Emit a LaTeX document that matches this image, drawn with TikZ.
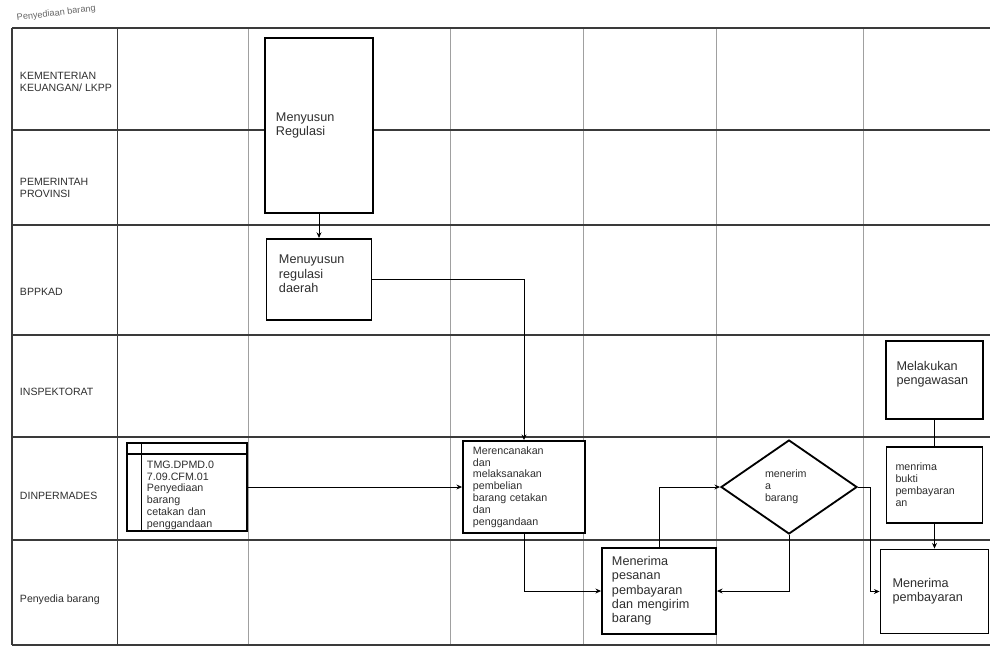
\documentclass[tikz,border=0pt]{standalone}
\usepackage{fontspec}
\setmainfont{Liberation Sans}
\usepackage{tikz}
\usetikzlibrary{positioning,arrows.meta,shapes.geometric}
\usepackage{xcolor}
\definecolor{laneline}{HTML}{3A3A3A}
\definecolor{gridline}{HTML}{A0A0A0}
\definecolor{inkgray}{HTML}{2E2E2E}
\newcommand{\lanefont}{\fontsize{7.5}{9}\selectfont}
\newcommand{\procfont}{\fontsize{9}{10.2}\selectfont}
\newcommand{\smallprocfont}{\fontsize{7.6}{8.4}\selectfont}

\begin{document}
\begin{tikzpicture}[x=0.025cm,y=-0.025cm,
      arr/.style={-{Stealth[length=4pt,width=3.5pt]},black,line width=0.6pt},
      proc/.style={draw=black,fill=white,line width=1.3pt,inner sep=0pt,align=left,text=inkgray},
      lanelabel/.style={anchor=west,align=left,font=\lanefont,text=inkgray}]
    \useasboundingbox (0,0) rectangle (990,657);
    % swimlanes
    \foreach \x in {248,450,583,716,863}
      \draw[gridline,line width=0.4pt] (\x,28) -- (\x,645);
    \foreach \y in {28,130,225,335,437,540,645}
      \draw[laneline,line width=0.9pt] (12,\y) -- (990,\y);
    \draw[laneline,line width=0.9pt] (12,28) -- (12,645);
    \draw[laneline,line width=0.7pt] (117,28) -- (117,645);
    \node[anchor=west,rotate=7,font=\fontsize{6.5}{7}\selectfont,text=black!60] (judul) at (12,19) {Penyediaan barang};
    \node[lanelabel] (kemenkeu) at (15,82) {KEMENTERIAN\\KEUANGAN/ LKPP};
    \node[lanelabel] (pemprov) at (15,188) {PEMERINTAH\\PROVINSI};
    \node[lanelabel] (bppkad) at (15,292) {BPPKAD};
    \node[lanelabel] (inspektorat) at (15,392) {INSPEKTORAT};
    \node[lanelabel] (dinpermades) at (15,496) {DINPERMADES};
    \node[lanelabel] (penyedia) at (15,600) {Penyedia barang};
    % process boxes
    \node[proc,minimum width=2.7cm,minimum height=4.375cm,text width=2.15cm,font=\procfont] (reg) at (319,125.5) {Menyusun\\Regulasi};
    \node[proc,minimum width=2.625cm,minimum height=2.025cm,text width=2.0cm,font=\procfont,below=0.6cm of reg] (daerah) {\rule{0pt}{3pt}Menuyusun\\regulasi\\daerah\rule[-8pt]{0pt}{0pt}};
    \node[proc,minimum width=3cm,minimum height=2.2cm,text width=2.0cm,font=\smallprocfont] (doc) at (187,487) {\rule{0pt}{17pt}TMG.DPMD.0\\7.09.CFM.01\\Penyediaan\\barang\\cetakan dan\\penggandaan};
    \draw[line width=0.9pt] ([yshift=-0.3cm]doc.north west) -- ([yshift=-0.3cm]doc.north east);
    \draw[line width=0.9pt] ([xshift=0.38cm]doc.north west) -- ([xshift=0.38cm]doc.south west);
    \node[proc,minimum width=3.05cm,minimum height=2.3cm,text width=2.55cm,font=\smallprocfont] (ren) at (524,487) {Merencanakan\\dan\\melaksanakan\\pembelian\\barang cetakan\\dan\\penggandaan};
    \node[proc,minimum width=2.85cm,minimum height=2.15cm,text width=2.35cm,font=\procfont] (pesanan) at (659,591) {Menerima\\pesanan\\pembayaran\\dan mengirim\\barang};
    \node[proc,diamond,minimum width=3.4cm,minimum height=2.35cm,text width=1.2cm,font=\smallprocfont] (dia) at (789,487) {menerim\\a\\barang};
    \node[proc,minimum width=2.425cm,minimum height=1.95cm,text width=1.9cm,font=\procfont] (awasan) at (934.5,380) {Melakukan\\pengawasan\rule[-10pt]{0pt}{0pt}};
    \node[proc,minimum width=2.4cm,minimum height=1.9cm,text width=1.95cm,font=\smallprocfont,below=0.65cm of awasan] (bukti) {menrima\\bukti\\pembayaran\\an};
    \node[proc,minimum width=2.7cm,minimum height=2.1cm,text width=2.1cm,font=\procfont,below=0.62cm of bukti] (bayar) {Menerima\\pembayaran};
    % flow
    \draw[arr] (reg) -- (daerah);
    \draw[arr] (daerah.east) -| (ren.north);
    \draw[arr] (doc.east) -- (ren.west);
    \draw[arr] (ren.south) |- (pesanan.west);
    \draw[arr] (pesanan.north) |- (dia.west);
    \draw[arr] (dia.south) |- (pesanan.east);
    \draw[arr] (dia.east) -- ++(12,0) |- (bayar.west);
    \draw[black,line width=0.6pt] (awasan) -- (bukti);
    \draw[arr] (bukti) -- (bayar);
  \end{tikzpicture}
\end{document}
